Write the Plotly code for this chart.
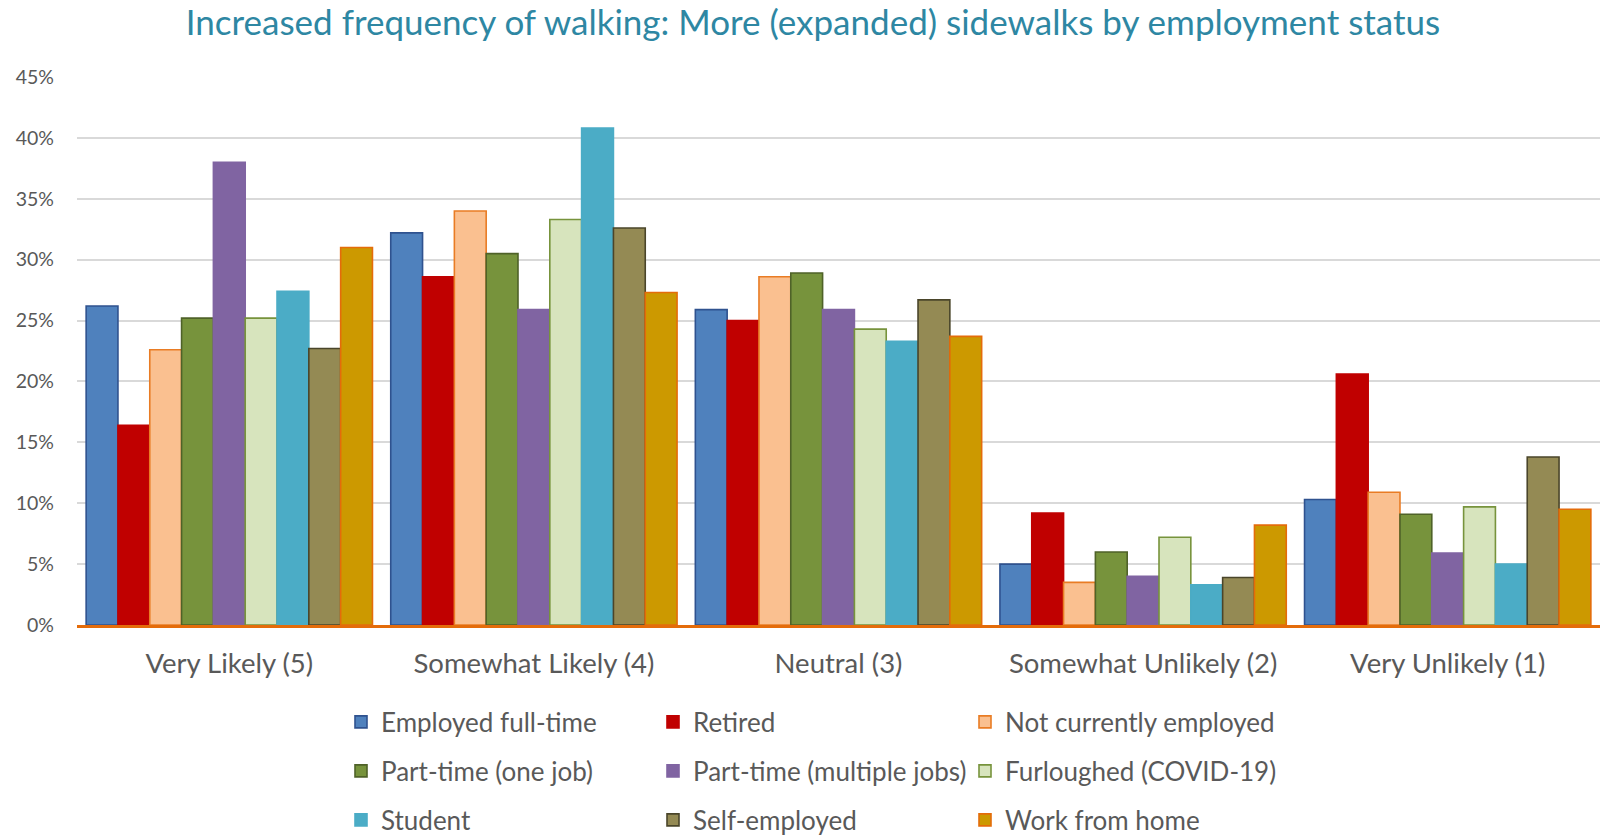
import plotly.graph_objects as go

categories = ["Very Likely (5)", "Somewhat Likely (4)", "Neutral (3)", "Somewhat Unlikely (2)", "Very Unlikely (1)"]
series_names = ["Employed full-time", "Retired", "Not currently employed",
                "Part-time (one job)", "Part-time (multiple jobs)", "Furloughed (COVID-19)",
                "Student", "Self-employed", "Work from home"]

employed_full_time = [26.2, 32.2, 25.9, 5.0, 10.3]
retired = [16.4, 28.6, 25.0, 9.2, 20.6]
not_currently_employed = [22.6, 34.0, 28.6, 3.5, 10.9]
part_time_one = [25.2, 30.5, 28.9, 6.0, 9.1]
part_time_multiple = [38.0, 25.9, 25.9, 4.0, 5.9]
furloughed = [25.2, 33.3, 24.3, 7.2, 9.7]
student = [27.4, 40.8, 23.3, 3.3, 5.0]
self_employed = [22.7, 32.6, 26.7, 3.9, 13.8]
work_from_home = [31.0, 27.3, 23.7, 8.2, 9.5]

values = [employed_full_time, retired, not_currently_employed, part_time_one,
          part_time_multiple, furloughed, student, self_employed, work_from_home]

fills = ["#4F81BD", "#C00000", "#FAC090", "#77933C", "#8064A2", "#D7E4BD", "#4BACC6", "#948A54", "#CC9900"]
outlines = ["#2F528F", "#C00000", "#E97C24", "#4F6228", "#8064A2", "#77933C", "#4BACC6", "#4A452A", "#E46C0A"]

y_ticks = [0, 5, 10, 15, 20, 25, 30, 35, 40, 45]
y_tick_labels = [f"{v}%" for v in y_ticks]

FONT = "Lato"
W, H = 1606, 837
legend_ids = ["legend", "legend2", "legend3"]

fig = go.Figure()
for i, (name, vals) in enumerate(zip(series_names, values)):
    fig.add_trace(go.Bar(
        name=name, x=categories, y=vals,
        marker=dict(color=fills[i], line=dict(color=outlines[i], width=1.6)),
        legend=legend_ids[i // 3],
        hovertemplate="%{x}<br>" + name + ": %{y:.1f}%<extra></extra>",
    ))

row_y = [722, 771, 820]
legend_x = 341
legend_common = dict(orientation="h", xref="container", yref="container",
                     xanchor="left", yanchor="middle", entrywidth=267, entrywidthmode="pixels",
                     font=dict(family=FONT, size=26, color="#595959"),
                     bgcolor="rgba(0,0,0,0)", itemclick=False, tracegroupgap=0)

layout_legends = {}
for k, lid in enumerate(legend_ids):
    layout_legends[lid] = dict(legend_common, x=legend_x / W, y=1 - row_y[k] / H)

fig.update_layout(
    width=W, height=H,
    barmode="group", bargap=0.06, bargroupgap=0,
    plot_bgcolor="white", paper_bgcolor="white",
    margin=dict(l=77, r=6, t=77, b=212),
    title=dict(text="Increased frequency of walking: More (expanded) sidewalks by employment status",
               x=813 / W, xanchor="center", xref="container", y=1 - 23 / H,
               yanchor="middle", yref="container",
               font=dict(family=FONT, size=35, color="#2E87A3")),
    xaxis=dict(showline=True, linecolor="#E46C0A", linewidth=2.8, ticks="", showgrid=False,
               tickfont=dict(family=FONT, size=27.5, color="#595959"), ticklabelstandoff=12),
    yaxis=dict(range=[0, 45], tickvals=y_ticks, ticktext=y_tick_labels, showgrid=True,
               gridcolor="#D9D9D9", gridwidth=1.5, zeroline=False, showline=False,
               tickfont=dict(family=FONT, size=19.5, color="#595959"), ticklabelstandoff=22),
    showlegend=True,
    **layout_legends,
)

fig.write_html("out.html", config={"displayModeBar": False},
               post_script="document.body.style.margin='0px';")
